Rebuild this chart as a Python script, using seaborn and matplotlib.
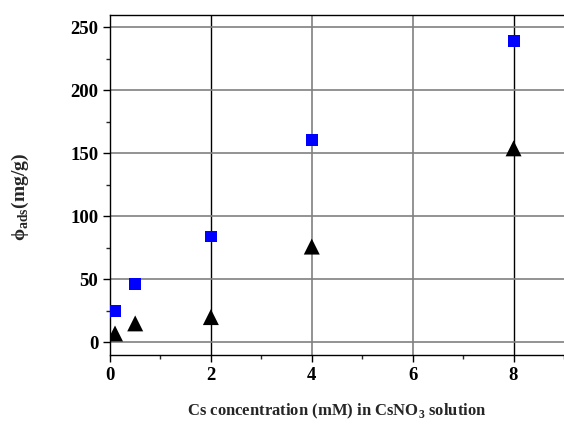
import numpy as np
import pandas as pd
import matplotlib
matplotlib.use("Agg")
import matplotlib.pyplot as plt
import seaborn as sns
from matplotlib.ticker import MultipleLocator

# Values
conc = [0.1, 0.5, 2, 4, 8]  # Cs concentration (mM)
ads_blue = [25, 46.5, 84, 161, 239]  # squares
ads_black = [7, 15, 20, 76, 154]  # triangles

df = pd.DataFrame({"conc": conc, "blue": ads_blue, "black": ads_black})

sns.set_style("ticks")
plt.rcParams["font.family"] = ["Liberation Serif", "DejaVu Serif"]
plt.rcParams["font.weight"] = "bold"
plt.rcParams["mathtext.fontset"] = "custom"
plt.rcParams["mathtext.rm"] = "Liberation Serif:bold"
plt.rcParams["mathtext.bf"] = "Liberation Serif:bold"

fig = plt.figure(figsize=(5.64, 4.25), dpi=100)
ax = fig.add_axes([0.195, 0.165, 0.805, 0.80])

sns.scatterplot(data=df, x="conc", y="blue", marker="s", color="#0000ff",
                s=8.6 ** 2, edgecolor="none", ax=ax, zorder=3)
sns.scatterplot(data=df, x="conc", y="black", marker="^", color="black",
                s=11.5 ** 2, edgecolor="none", ax=ax, zorder=3)

ax.set_xlim(0, 9)
ax.set_ylim(-10, 260)
ax.xaxis.set_major_locator(MultipleLocator(2))
ax.xaxis.set_minor_locator(MultipleLocator(1))
ax.yaxis.set_major_locator(MultipleLocator(50))
ax.yaxis.set_minor_locator(MultipleLocator(25))

ax.grid(True, which="major", color="#808080", linewidth=1.2)
ax.set_axisbelow(True)
# the gridlines at 2 and 8 look black in the original
for pos, gl in zip(ax.get_xticks(), ax.get_xgridlines()):
    if pos in (2, 8):
        gl.set_color("black")
        gl.set_linewidth(1.0)

ax.tick_params(which="major", direction="out", length=5, width=1,
               labelsize=13.5, colors="black")
ax.tick_params(which="minor", direction="out", length=3, width=1)
for lab in ax.get_xticklabels() + ax.get_yticklabels():
    lab.set_fontweight("bold")

ax.spines["right"].set_visible(False)
for side in ["left", "bottom", "top"]:
    ax.spines[side].set_linewidth(1.0)
    ax.spines[side].set_color("black")

ax.set_xlabel("Cs concentration (mM) in CsNO$_3$ solution", fontsize=12,
              fontweight="bold", labelpad=13)
ax.set_ylabel(r"ϕ$_{\mathrm{ads}}$(mg/g)", fontsize=14, fontweight="bold",
              labelpad=28, y=0.465)

fig.savefig("out.png", dpi=100)
